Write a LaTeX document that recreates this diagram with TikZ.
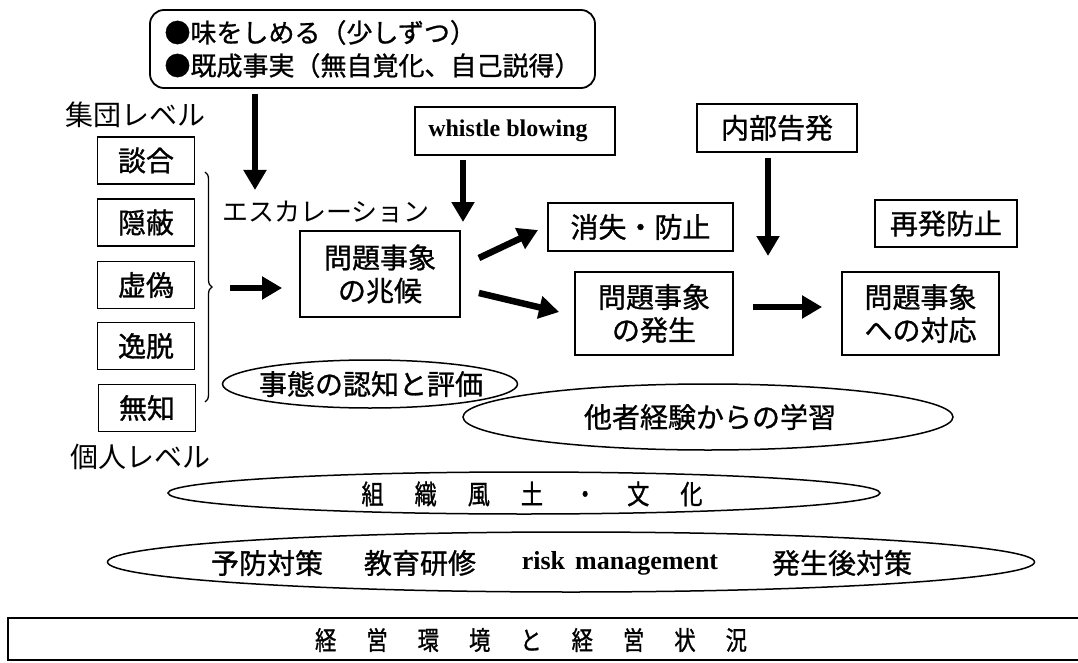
\documentclass[tikz,border=0pt]{standalone}
\usepackage{fontspec}
\setmainfont{Liberation Serif}
\newfontfamily\jp{Noto Sans CJK JP}
\newfontfamily\jpb[FakeBold=1]{Noto Sans CJK JP}
\newfontfamily\jpc[FakeStretch=0.82,FakeBold=1]{Noto Sans CJK JP}
\usetikzlibrary{arrows.meta,decorations.pathreplacing,shapes.geometric}
\begin{document}
\begin{tikzpicture}[x=1pt,y=-1pt,
  box/.style={draw,line width=1.8pt,inner sep=0pt,align=center,font=\jpb\fontsize{28}{33}\selectfont},
  lbl/.style={inner sep=0pt,font=\jp\fontsize{28}{33}\selectfont},
  txt/.style={inner sep=0pt,font=\jpb\fontsize{28}{33}\selectfont},
  bigarrow/.style={line width=6.5pt,-{Triangle[length=20pt,width=22pt]}},
  oval/.style={draw,ellipse,line width=1.5pt,inner sep=0pt},
  brc/.style={decorate,decoration={brace,amplitude=7pt},line width=1.3pt}
]
\useasboundingbox (0,0) rectangle (1078,663);

% top rounded box
\node[box,rounded corners=14pt,minimum width=445pt,minimum height=78pt,align=left,
      font=\jpb\fontsize{26}{33}\selectfont] (top) at (372.5,49)
  {●味をしめる（少しずつ）\\●既成事実（無自覚化、自己説得）};

% levels
\node[lbl] (grp) at (135,115) {集団レベル};
\node[lbl] (ind) at (140,457) {個人レベル};

% left column
\node[box,minimum width=97pt,minimum height=47pt] (b1) at (146,160.5) {談合};
\node[box,minimum width=97pt,minimum height=47pt] (b2) at (146,222.5) {隠蔽};
\node[box,minimum width=97pt,minimum height=47pt] (b3) at (146,285) {虚偽};
\node[box,minimum width=97pt,minimum height=47pt] (b4) at (146,346) {逸脱};
\node[box,minimum width=97pt,minimum height=47pt] (b5) at (147,408) {無知};

\coordinate (brTop) at (205,172);
\coordinate (brBot) at (205,402);
\draw[brc] (brTop) -- (brBot);

% escalation
\node[lbl,font=\jp\fontsize{26}{30}\selectfont] (esc) at (326,212) {エスカレーション};

% whistle and internal
\node[box,minimum width=200pt,minimum height=48pt] (wb) at (515,131) {};
\node[inner sep=0pt,font=\bfseries\fontsize{24}{28}\selectfont] (wbt) at (508,131) {whistle blowing};
\node[box,minimum width=160pt,minimum height=48pt] (nb) at (777,128) {内部告発};

% main boxes
\node[box,minimum width=160pt,minimum height=86pt] (sign) at (380,274) {問題事象\\の兆候};
\node[box,minimum width=185pt,minimum height=48pt] (van) at (640.5,227) {消失・防止};
\node[box,minimum width=142pt,minimum height=47pt] (rec) at (946,223.5) {再発防止};
\node[box,minimum width=158pt,minimum height=83pt] (occ) at (654,313.5) {問題事象\\の発生};
\node[box,minimum width=157pt,minimum height=83pt] (resp) at (920.5,313.5) {問題事象\\への対応};

% arrows
\coordinate (a1) at (255,190);
\draw[bigarrow,shorten <=5pt] (top.south -| a1) -- (a1);
\coordinate (a2) at (463,222);
\draw[bigarrow,shorten <=4pt] (wb.south -| a2) -- (a2);
\coordinate (a3) at (768,256);
\draw[bigarrow,shorten <=5pt] (nb.south -| a3) -- (a3);
\coordinate (a4) at (230,288);
\draw[bigarrow,shorten >=17pt] (a4) -- (a4 -| sign.west);
\draw[bigarrow] ([shift={(18,-16)}]sign.east) -- ([shift={(-9,3)}]van.west);
\draw[bigarrow] ([shift={(18,19)}]sign.east) -- ([shift={(-15,-1.5)}]occ.west);
\draw[bigarrow] ([shift={(19,-6.5)}]occ.east) -- ([shift={(-19,-6.5)}]resp.west);

% ellipses
\node[oval,minimum width=295pt,minimum height=48pt] (e1) at (370,384) {};
\node[txt] (e1t) at (371,384) {事態の認知と評価};
\node[oval,minimum width=490pt,minimum height=66pt] (e2) at (708,417) {};
\node[txt] (e2t) at (710,417) {他者経験からの学習};
\node[oval,minimum width=712pt,minimum height=42pt] (e3) at (524,493) {};
\node[inner sep=0pt,font=\jpc\fontsize{27}{30}\selectfont] (e3t) at (532,494)
  {組\hspace{31pt}織\hspace{31pt}風\hspace{31pt}土\hspace{31pt}・\hspace{31pt}文\hspace{31pt}化};
\node[oval,minimum width=927pt,minimum height=60pt] (e4) at (571,562) {};
\node[txt] (t1) at (267,563) {予防対策};
\node[txt] (t2) at (420,563) {教育研修};
\node[inner sep=0pt,font=\bfseries\fontsize{26}{30}\selectfont] (t3) at (620,563) {risk\hspace{10pt}management};
\node[txt] (t4) at (842,563) {発生後対策};

% bottom box
\node[draw,line width=1.8pt,minimum width=1077pt,minimum height=42pt,inner sep=0pt] (env) at (546.5,639) {};
\node[inner sep=0pt,font=\jpc\fontsize{26}{30}\selectfont] (envt) at (531,640)
  {経\hspace{30pt}営\hspace{30pt}環\hspace{30pt}境\hspace{30pt}と\hspace{30pt}経\hspace{30pt}営\hspace{30pt}状\hspace{30pt}況};
\end{tikzpicture}
\end{document}
